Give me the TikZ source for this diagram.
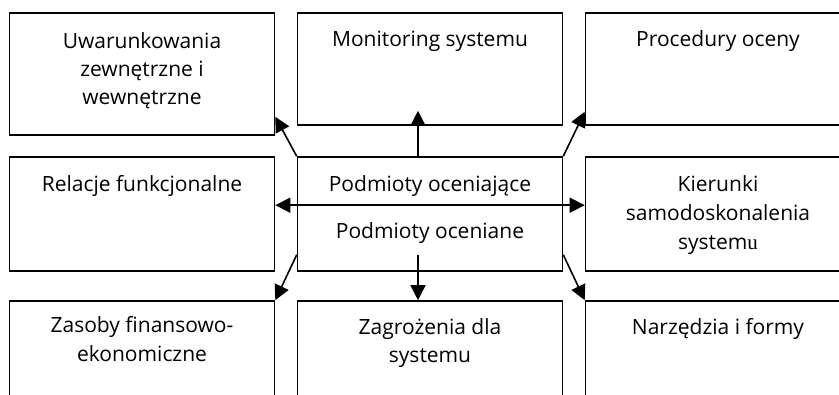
\documentclass[tikz,border=0pt]{standalone}
\usepackage{fontspec}
\setmainfont{Open Sans}
\newfontfamily\serifu{Liberation Serif}
\usetikzlibrary{arrows.meta,calc}
\begin{document}
\begin{tikzpicture}[x=1pt,y=-1pt,
  box/.style={draw=black,line width=1.6pt,rectangle,inner sep=0pt,minimum width=265pt},
  txt/.style={anchor=base,inner sep=0pt,font=\fontsize{21}{26}\selectfont},
  arr/.style={line width=1.6pt,-{Triangle[length=15pt,width=15pt]}},
  darr/.style={line width=1.6pt,{Triangle[length=15pt,width=15pt]}-{Triangle[length=15pt,width=15pt]}}]
\useasboundingbox (0,0) rectangle (839,395);
% boxes
\node[box,minimum height=122pt] (ul) at (142,74) {};
\node[box,minimum height=112pt] (um) at (430,69) {};
\node[box,minimum height=112pt] (ur) at (718,69) {};
\node[box,minimum height=114pt] (ml) at (142,214) {};
\node[box,minimum height=114pt] (mc) at (430,214) {};
\node[box,minimum height=114pt] (mr) at (718,214) {};
\node[box,minimum height=130pt] (bl) at (142,366) {};
\node[box,minimum height=130pt] (bm) at (430,366) {};
\node[box,minimum height=130pt] (br) at (718,366) {};
% texts
\node[txt] (t1a) at (142,49) {Uwarunkowania};
\node[txt] (t1b) at (142,77) {zewnętrzne i};
\node[txt] (t1c) at (142,105) {wewnętrzne};
\node[txt] (t2a) at (430,47) {Monitoring systemu};
\node[txt] (t3a) at (718,47) {Procedury oceny};
\node[txt] (t4a) at (142,192) {Relacje funkcjonalne};
\node[txt] (t5a) at (430,192) {Podmioty oceniające};
\node[txt] (t5b) at (430,239) {Podmioty oceniane};
\node[txt] (t6a) at (718,192) {Kierunki};
\node[txt] (t6b) at (718,221) {samodoskonalenia};
\node[txt] (t6c) at (718,250) {system{\serifu u}};
\node[txt] (t7a) at (142,333) {Zasoby finansowo-};
\node[txt] (t7b) at (142,362) {ekonomiczne};
\node[txt] (t8a) at (430,335) {Zagrożenia dla};
\node[txt] (t8b) at (430,363) {systemu};
\node[txt] (t9a) at (718,335) {Narzędzia i formy};
% connector ends
\coordinate (cUp) at ($(mc.north)+(-12,0)$);
\coordinate (eUp) at ($(um.south)+(-12,-15)$);
\coordinate (cDn) at ($(mc.south)+(-12,-17)$);
\coordinate (cDL) at ($(mc.south west)+(0,-17)$);
\coordinate (cDR) at ($(mc.south east)+(0,-17)$);
\coordinate (eUL) at ($(ul.south east)+(0,-19)$);
\coordinate (eUR) at ($(ur.south west)+(0,-14)$);
\coordinate (cL) at ($(mc.north west)+(0,49)$);
\coordinate (eL) at (ml.east |- cL);
\coordinate (eR) at (mr.west |- cL);
% connectors
\draw[arr] (cUp) -- (eUp);
\draw[arr] (mc.north west) -- (eUL);
\draw[arr] (mc.north east) -- (eUR);
\draw[darr] (eL) -- (eR);
\draw[arr] (cDL) -- (bl.north east);
\draw[arr] (cDn) -- (cDn |- bm.north);
\draw[arr] (cDR) -- (br.north west);
\end{tikzpicture}
\end{document}
